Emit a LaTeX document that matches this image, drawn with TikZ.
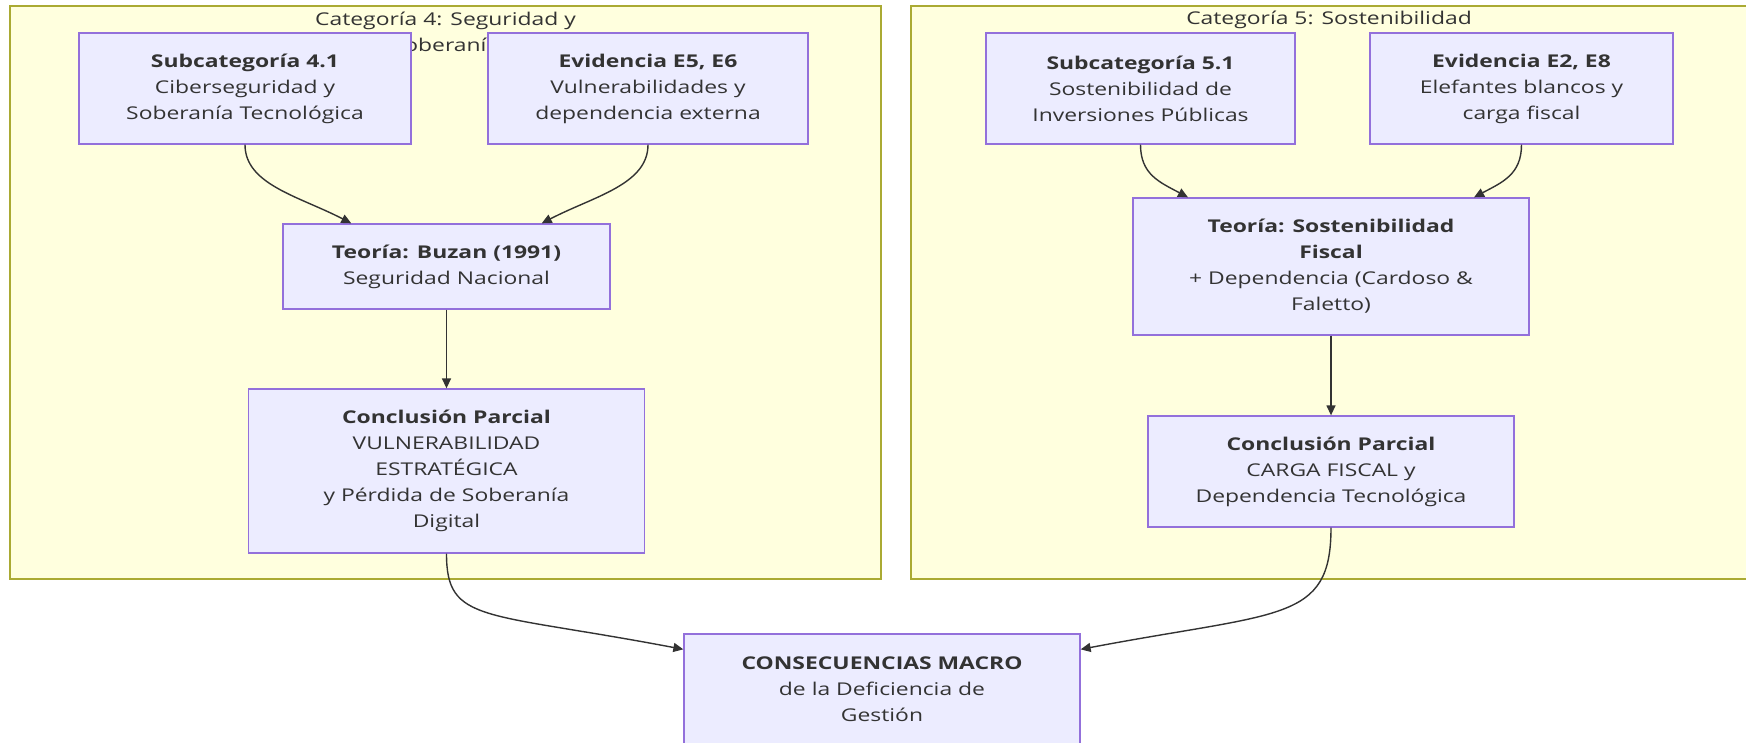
\documentclass[tikz,border=0pt]{standalone}
\usepackage{fontspec}
\setmainfont{Open Sans}[FakeStretch=1.3]
\usetikzlibrary{arrows.meta,calc}
\definecolor{clfill}{HTML}{FFFFDE}
\definecolor{clline}{HTML}{AAAA33}
\definecolor{ndfill}{HTML}{ECECFF}
\definecolor{ndline}{HTML}{9370DB}
\definecolor{ink}{HTML}{333333}
\begin{document}
\begin{tikzpicture}[x=1pt,y=-1pt,
  font=\fontsize{17.6}{26}\selectfont,
  cluster/.style={rectangle, draw=clline, fill=clfill, line width=1.3pt, inner sep=0pt},
  cltitle/.style={text=ink, align=center, inner sep=0pt},
  box/.style={rectangle, draw=ndline, fill=ndfill, line width=1.3pt, text=ink,
    align=center, inner sep=0pt},
  arr/.style={draw=ink, line width=1.4pt, -{Triangle[length=10pt,width=9pt]}}]

\fill[white] (0,0) rectangle (1746,743);
\useasboundingbox (0,0) rectangle (1746,743);

% category frames
\node[cluster, minimum width=871, minimum height=573] (cat4) at (445.5,292.5) {};
\node[cluster, minimum width=836, minimum height=573] (cat5) at (1329,292.5) {};
\node[cltitle] (cat4t) at (445.5,31.5) {Categoría 4: Seguridad y\\Soberanía};
\node[cltitle] (cat5t) at (1329,20) {Categoría 5: Sostenibilidad};

% category 4
\node[box, minimum width=332, minimum height=111] (sub4) at (245,88.5)
  {\textbf{Subcategoría 4.1}\\Ciberseguridad y\\Soberanía Tecnológica};
\node[box, minimum width=320, minimum height=111] (ev4) at (648,88.5)
  {\textbf{Evidencia E5, E6}\\Vulnerabilidades y\\dependencia externa};
\node[box, minimum width=327, minimum height=85] (teo4) at (446.5,266.5)
  {\textbf{Teoría: Buzan (1991)}\\Seguridad Nacional};
\node[box, minimum width=396, minimum height=164] (con4) at (446.5,471)
  {\textbf{Conclusión Parcial}\\VULNERABILIDAD\\ESTRATÉGICA\\y Pérdida de Soberanía\\Digital};

% category 5
\node[box, minimum width=309, minimum height=111] (sub5) at (1140.5,88.5)
  {\textbf{Subcategoría 5.1}\\Sostenibilidad de\\Inversiones Públicas};
\node[box, minimum width=303, minimum height=111] (ev5) at (1521.5,88.5)
  {\textbf{Evidencia E2, E8}\\Elefantes blancos y\\carga fiscal};
\node[box, minimum width=396, minimum height=137] (teo5) at (1331,266.5)
  {\textbf{Teoría: Sostenibilidad}\\\textbf{Fiscal}\\+ Dependencia (Cardoso \&\\Faletto)};
\node[box, minimum width=366, minimum height=111] (con5) at (1331,471.5)
  {\textbf{Conclusión Parcial}\\CARGA FISCAL y\\Dependencia Tecnológica};

% outcome
\node[box, minimum width=396, minimum height=111] (cons) at (882,689.5)
  {\textbf{CONSECUENCIAS MACRO}\\de la Deficiencia de\\Gestión};

% connectors
\draw[arr] (sub4.south) .. controls +(0,40) and +(-52,-27) ..
  ($(teo4.north west)!0.21!(teo4.north east)$);
\draw[arr] (ev4.south) .. controls +(0,40) and +(52,-27) ..
  ($(teo4.north west)!0.79!(teo4.north east)$);
\draw[arr] (teo4.south) -- (teo4.south |- con4.north);

\draw[arr] (sub5.south) .. controls +(0,30) and +(-28,-15) ..
  ($(teo5.north west)!0.14!(teo5.north east)$);
\draw[arr] (ev5.south) .. controls +(0,30) and +(28,-15) ..
  ($(teo5.north west)!0.86!(teo5.north east)$);
\draw[arr] (teo5.south) -- (teo5.south |- con5.north);

\draw[arr] (con4.south) .. controls +(0,70) and +(-200,-38) ..
  ($(cons.north west)+(0,16)$);
\draw[arr] (con5.south) .. controls +(0,95) and +(200,-38) ..
  ($(cons.north east)+(0,16)$);
\end{tikzpicture}
\end{document}
